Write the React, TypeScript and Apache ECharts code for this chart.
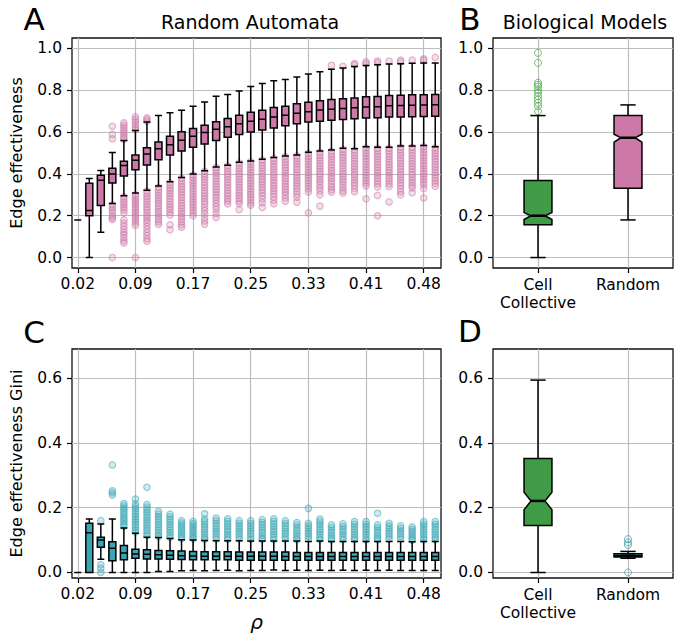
import React, { useEffect, useRef } from "react";
import * as echarts from "echarts";

// ---------- data ----------
const rhoLabels = ["0.02","0.03","0.05","0.06","0.08","0.09","0.11","0.12","0.14","0.16","0.17","0.19","0.20","0.22","0.23","0.25","0.27","0.28","0.30","0.31","0.33","0.34","0.36","0.38","0.39","0.41","0.42","0.44","0.45","0.47","0.48","0.50"];
const bioCategories = ["Cell\nCollective", "Random"];
const yTicksTop = [0, 0.2, 0.4, 0.6, 0.8, 1.0];
const yTicksBottom = [0, 0.2, 0.4, 0.6];

// Panel A: [low whisker, Q1, median, Q3, high whisker]
const effStats = [
  [0.18,0.18,0.18,0.18,0.18],[0.0,0.2,0.225,0.355,0.378],[0.121,0.249,0.37,0.393,0.416],[0.258,0.357,0.4,0.427,0.502],
  [0.295,0.39,0.44,0.46,0.56],[0.309,0.42,0.465,0.491,0.608],[0.322,0.443,0.495,0.525,0.648],[0.342,0.468,0.52,0.553,0.679],
  [0.363,0.491,0.54,0.58,0.692],[0.383,0.51,0.561,0.602,0.705],[0.4,0.527,0.58,0.617,0.724],[0.415,0.543,0.598,0.633,0.744],
  [0.433,0.56,0.613,0.649,0.771],[0.442,0.575,0.625,0.665,0.78],[0.456,0.589,0.64,0.68,0.797],[0.462,0.6,0.652,0.695,0.818],
  [0.47,0.61,0.661,0.705,0.832],[0.478,0.62,0.672,0.718,0.846],[0.486,0.63,0.68,0.724,0.851],[0.49,0.64,0.69,0.735,0.864],
  [0.504,0.648,0.697,0.743,0.878],[0.509,0.652,0.706,0.75,0.888],[0.514,0.657,0.709,0.756,0.9],[0.523,0.66,0.713,0.759,0.906],
  [0.52,0.664,0.716,0.763,0.914],[0.53,0.667,0.72,0.769,0.919],[0.528,0.668,0.721,0.77,0.922],[0.528,0.672,0.726,0.775,0.926],
  [0.533,0.672,0.727,0.776,0.927],[0.533,0.673,0.728,0.778,0.929],[0.536,0.675,0.73,0.779,0.93],[0.53,0.676,0.731,0.78,0.931],
];
const effOutliers = [
  [],[],[],
  [0.628,0.589,0.568,0.252,0.24,0.228,0.215,0.2,0.19,0.182,0.0],
  [0.644,0.632,0.62,0.608,0.597,0.585,0.574,0.565,0.29,0.278,0.265,0.252,0.24,0.228,0.214,0.18,0.165,0.15,0.135,0.12,0.11,0.095,0.08,0.07],
  [0.673,0.66,0.648,0.636,0.624,0.612,0.3,0.288,0.276,0.264,0.252,0.24,0.228,0.216,0.204,0.192,0.18,0.168,0.155,0.0],
  [0.668,0.66,0.652,0.318,0.305,0.292,0.28,0.267,0.254,0.241,0.228,0.215,0.202,0.19,0.178,0.166,0.15,0.135,0.12,0.105,0.09,0.078],
  [0.335,0.322,0.31,0.297,0.284,0.272,0.259,0.246,0.233,0.22,0.208,0.195,0.182,0.17,0.158],
  [0.358,0.345,0.332,0.32,0.307,0.294,0.281,0.268,0.255,0.242,0.23,0.217,0.204,0.157,0.133],
  [0.378,0.365,0.352,0.339,0.326,0.313,0.3,0.287,0.274,0.261,0.248,0.235,0.222,0.21,0.197,0.184,0.17,0.157,0.145],
  [0.395,0.382,0.369,0.356,0.343,0.33,0.317,0.304,0.291,0.278,0.265,0.252,0.239,0.226,0.213,0.2],
  [0.412,0.399,0.386,0.373,0.36,0.347,0.334,0.321,0.308,0.295,0.282,0.269,0.256,0.24,0.225,0.21,0.19,0.175,0.16],
  [0.43,0.417,0.404,0.391,0.378,0.365,0.352,0.339,0.326,0.313,0.3,0.287,0.274,0.26,0.245,0.23,0.21,0.192],
  [0.438,0.425,0.412,0.399,0.386,0.373,0.36,0.347,0.334,0.321,0.308,0.295,0.282,0.27,0.256],
  [0.452,0.439,0.426,0.413,0.4,0.387,0.374,0.361,0.348,0.335,0.322,0.309,0.296,0.283,0.27,0.258,0.23],
  [0.458,0.445,0.432,0.419,0.406,0.393,0.38,0.367,0.354,0.341,0.328,0.315,0.302,0.289,0.276,0.262,0.25],
  [0.466,0.453,0.44,0.427,0.414,0.401,0.388,0.375,0.362,0.349,0.336,0.323,0.31,0.295,0.28,0.262,0.24],
  [0.474,0.461,0.448,0.435,0.422,0.409,0.396,0.383,0.37,0.357,0.344,0.331,0.318,0.305,0.29,0.275,0.258],
  [0.482,0.469,0.456,0.443,0.43,0.417,0.404,0.391,0.378,0.365,0.352,0.339,0.326,0.313,0.3,0.285,0.27],
  [0.486,0.473,0.46,0.447,0.434,0.421,0.408,0.395,0.382,0.369,0.356,0.343,0.33,0.317,0.303,0.288,0.265],
  [0.498,0.485,0.472,0.459,0.446,0.433,0.42,0.407,0.394,0.381,0.368,0.355,0.342,0.328,0.314,0.214],
  [0.503,0.49,0.477,0.464,0.451,0.438,0.425,0.412,0.399,0.386,0.373,0.36,0.347,0.333,0.318,0.3,0.246],
  [0.919,0.508,0.495,0.482,0.469,0.456,0.443,0.43,0.417,0.404,0.391,0.378,0.365,0.352,0.338,0.325,0.313],
  [0.915,0.517,0.504,0.491,0.478,0.465,0.452,0.439,0.426,0.413,0.4,0.387,0.374,0.361,0.348,0.334,0.32,0.309],
  [0.928,0.922,0.514,0.501,0.488,0.475,0.462,0.449,0.436,0.423,0.41,0.397,0.384,0.371,0.358,0.345,0.33,0.315],
  [0.936,0.927,0.524,0.511,0.498,0.485,0.472,0.459,0.446,0.433,0.42,0.407,0.394,0.381,0.368,0.355,0.342,0.281],
  [0.94,0.932,0.522,0.509,0.496,0.483,0.47,0.457,0.444,0.431,0.418,0.405,0.392,0.379,0.366,0.353,0.338,0.297,0.2],
  [0.94,0.522,0.509,0.496,0.483,0.47,0.457,0.444,0.431,0.418,0.405,0.392,0.379,0.366,0.353,0.34,0.266],
  [0.944,0.936,0.527,0.514,0.501,0.488,0.475,0.462,0.449,0.436,0.423,0.41,0.397,0.384,0.371,0.358,0.345,0.33,0.315,0.3],
  [0.944,0.527,0.514,0.501,0.488,0.475,0.462,0.449,0.436,0.423,0.41,0.397,0.384,0.371,0.358,0.345,0.333,0.31],
  [0.95,0.944,0.53,0.517,0.504,0.491,0.478,0.465,0.452,0.439,0.426,0.413,0.4,0.387,0.374,0.361,0.348,0.33,0.285],
  [0.957,0.524,0.511,0.498,0.485,0.472,0.459,0.446,0.433,0.42,0.407,0.394,0.381,0.368,0.355,0.341],
];

// Panel C: [low whisker, Q1, median, Q3, high whisker]
const giniStats = [
  [0,0,0,0,0],[0,0,0.123,0.152,0.165],[0.041,0.078,0.1,0.109,0.15],[0,0.036,0.075,0.095,0.165],
  [0,0.039,0.06,0.083,0.137],[0,0.044,0.057,0.072,0.121],[0,0.042,0.056,0.07,0.109],[0.003,0.042,0.055,0.068,0.108],
  [0.003,0.041,0.053,0.067,0.105],[0.005,0.04,0.052,0.066,0.101],[0.006,0.039,0.051,0.065,0.1],[0.005,0.039,0.05,0.064,0.099],
  [0.006,0.039,0.05,0.064,0.098],[0.007,0.039,0.05,0.064,0.098],[0.005,0.038,0.05,0.063,0.098],[0.006,0.038,0.05,0.063,0.097],
  [0.006,0.038,0.05,0.063,0.097],[0.008,0.038,0.05,0.063,0.097],[0.006,0.038,0.049,0.063,0.097],[0.007,0.038,0.049,0.062,0.097],
  [0.006,0.038,0.049,0.062,0.096],[0.007,0.038,0.049,0.062,0.097],[0.006,0.038,0.049,0.062,0.096],[0.007,0.038,0.049,0.062,0.096],
  [0.006,0.038,0.049,0.062,0.096],[0.007,0.038,0.049,0.062,0.096],[0.006,0.038,0.049,0.062,0.096],[0.007,0.038,0.049,0.062,0.096],
  [0.006,0.038,0.049,0.062,0.096],[0.006,0.038,0.049,0.062,0.095],[0.006,0.038,0.049,0.062,0.096],[0.006,0.038,0.049,0.062,0.096],
];
const giniOutliers = [
  [],[0.139],[0.16,0.024,0.013,0.0],[0.332,0.252,0.246,0.239],
  [0.213,0.206,0.199,0.192,0.185,0.178,0.171,0.164,0.157,0.15,0.143],
  [0.227,0.212,0.204,0.196,0.188,0.18,0.172,0.164,0.156,0.148,0.14,0.132,0.125],
  [0.263,0.21,0.202,0.194,0.186,0.178,0.17,0.162,0.154,0.146,0.138,0.13,0.122,0.114],
  [0.188,0.18,0.172,0.164,0.156,0.148,0.14,0.132,0.124,0.116,0.111],
  [0.18,0.172,0.164,0.156,0.148,0.14,0.132,0.124,0.116,0.109],
  [0.16,0.153,0.146,0.139,0.132,0.125,0.118,0.111,0.105],
  [0.158,0.151,0.144,0.137,0.13,0.123,0.116,0.109,0.104],
  [0.181,0.165,0.157,0.149,0.141,0.133,0.125,0.117,0.109,0.103],
  [0.168,0.16,0.152,0.144,0.136,0.128,0.12,0.112,0.104],
  [0.166,0.158,0.15,0.142,0.134,0.126,0.118,0.11,0.103],
  [0.16,0.152,0.144,0.136,0.128,0.12,0.112,0.104],
  [0.16,0.152,0.144,0.136,0.128,0.12,0.112,0.103],
  [0.163,0.155,0.147,0.139,0.131,0.123,0.115,0.107,0.102],
  [0.166,0.158,0.15,0.142,0.134,0.126,0.118,0.11,0.102],
  [0.16,0.152,0.144,0.136,0.128,0.12,0.112,0.104],
  [0.154,0.146,0.138,0.13,0.122,0.114,0.106,0.101],
  [0.198,0.152,0.144,0.136,0.128,0.12,0.112,0.104],
  [0.165,0.157,0.149,0.141,0.133,0.125,0.117,0.109,0.102],
  [0.147,0.139,0.131,0.123,0.115,0.107,0.101],
  [0.15,0.142,0.134,0.126,0.118,0.11,0.102],
  [0.157,0.149,0.141,0.133,0.125,0.117,0.109,0.102],
  [0.157,0.149,0.141,0.133,0.125,0.117,0.109,0.101],
  [0.183,0.147,0.139,0.131,0.123,0.115,0.107,0.101],
  [0.152,0.144,0.136,0.128,0.12,0.112,0.104],
  [0.144,0.136,0.128,0.12,0.112,0.104],
  [0.14,0.133,0.126,0.119,0.112,0.105,0.1],
  [0.157,0.149,0.141,0.133,0.125,0.117,0.109,0.102],
  [0.157,0.149,0.141,0.133,0.125,0.117,0.109,0.102],
];

// Panels B, D: [low, Q1, notch low, median, notch high, Q3, high]
const bioEffStats = [
  [0, 0.157, 0.182, 0.2, 0.215, 0.368, 0.679],
  [0.18, 0.332, 0.552, 0.573, 0.59, 0.679, 0.73],
];
const bioEffOutliers = [0.979, 0.931, 0.836, 0.826, 0.817, 0.8, 0.788, 0.772, 0.756, 0.74, 0.724, 0.7];
const bioGiniStats = [
  [0, 0.145, 0.194, 0.221, 0.248, 0.352, 0.594],
  [0.044, 0.048, 0.0515, 0.052, 0.0525, 0.058, 0.065],
];
const bioGiniOutliers = [0.103, 0.093, 0.085, 0.0];

// ---------- styles ----------
const FONT = "DejaVu Sans";
const PINK = "#CC79A7";
const TEAL = "#3AA6B5";
const GREEN = "#3F9B45";
const GREEN_O = "#4DAF4A";

const axisFont = { fontFamily: FONT, fontSize: 15.5, color: "#000" };
const tickStyle = { show: true, length: 5, lineStyle: { color: "#000", width: 1.2 } };
const gridLine = { show: true, lineStyle: { color: "#bdbdbd", width: 1.2 } };

function flatten(list: number[][]) {
  const out: number[][] = [];
  list.forEach((vals, i) => vals.forEach((v) => out.push([i, v])));
  return out;
}

function notched(fill: string) {
  return (params: any, api: any) => {
    const idx = api.value(0);
    const c = (k: number) => api.coord([idx, api.value(k)]);
    const pLow = c(1), pQ1 = c(2), pNLo = c(3), pMed = c(4), pNHi = c(5), pQ3 = c(6), pHigh = c(7);
    const cx = pMed[0];
    const band = api.size([1, 0])[0];
    const hw = band * 0.155;
    const nw = hw * 0.5;
    const cw = hw * 0.55;
    const st = { stroke: "#000", lineWidth: 1.5, fill: "none" };
    return {
      type: "group",
      children: [
        { type: "line", shape: { x1: cx, y1: pQ3[1], x2: cx, y2: pHigh[1] }, style: st },
        { type: "line", shape: { x1: cx, y1: pQ1[1], x2: cx, y2: pLow[1] }, style: st },
        { type: "line", shape: { x1: cx - cw, y1: pHigh[1], x2: cx + cw, y2: pHigh[1] }, style: st },
        { type: "line", shape: { x1: cx - cw, y1: pLow[1], x2: cx + cw, y2: pLow[1] }, style: st },
        {
          type: "polygon",
          shape: {
            points: [
              [cx - hw, pQ1[1]], [cx + hw, pQ1[1]], [cx + hw, pNLo[1]], [cx + nw, pMed[1]],
              [cx + hw, pNHi[1]], [cx + hw, pQ3[1]], [cx - hw, pQ3[1]], [cx - hw, pNHi[1]],
              [cx - nw, pMed[1]], [cx - hw, pNLo[1]],
            ],
          },
          style: { fill, stroke: "#000", lineWidth: 1.5 },
        },
        { type: "line", shape: { x1: cx - nw, y1: pMed[1], x2: cx + nw, y2: pMed[1] }, style: { stroke: "#000", lineWidth: 2.5 } },
      ],
    };
  };
}

function rhoAxis(gridIndex: number, withName: boolean) {
  return {
    type: "category",
    gridIndex,
    data: rhoLabels,
    boundaryGap: true,
    axisLine: { show: false, onZero: false },
    axisTick: { ...tickStyle, interval: 4, alignWithLabel: true },
    axisLabel: { ...axisFont, interval: 4, margin: 8 },
    splitLine: { ...gridLine, interval: 4, alignWithLabel: true },
    name: withName ? "ρ" : "",
    nameLocation: "middle",
    nameGap: 34,
    nameTextStyle: { fontFamily: FONT, fontStyle: "italic", fontSize: 20, color: "#000" },
  };
}

function bioAxis(gridIndex: number) {
  return {
    type: "category",
    gridIndex,
    data: bioCategories,
    boundaryGap: true,
    axisLine: { show: false, onZero: false },
    axisTick: { ...tickStyle, interval: 0, alignWithLabel: true },
    axisLabel: { ...axisFont, interval: 0, margin: 8, lineHeight: 18, hideOverlap: false },
    splitLine: { ...gridLine, interval: 0, alignWithLabel: true },
  };
}

function valAxis(gridIndex: number, min: number, max: number, ticks: number[], name: string, splitNumber: number) {
  return {
    type: "value",
    gridIndex,
    min,
    max,
    splitNumber,
    axisLine: { show: false },
    axisTick: { ...tickStyle, customValues: ticks },
    axisLabel: { ...axisFont, customValues: ticks, margin: 10, formatter: (v: number) => v.toFixed(1) },
    splitLine: gridLine,
    name,
    nameLocation: "middle",
    nameGap: 48,
    nameTextStyle: { fontFamily: FONT, fontSize: 16, color: "#000" },
  };
}

const gridBase = { show: true, borderColor: "#111", borderWidth: 1.3, backgroundColor: "transparent", containLabel: false };

function label(text: string, x: number, y: number, size: number) {
  return {
    type: "text",
    x,
    y,
    style: { text, font: `${size}px '${FONT}'`, fill: "#000", align: "center", verticalAlign: "middle", textAlign: "center", textVerticalAlign: "middle" },
  };
}

export default function App() {
  const ref = useRef<HTMLDivElement>(null);
  useEffect(() => {
    document.body.style.margin = "0";
    if (!ref.current) return;
    const chart = echarts.init(ref.current, null, { renderer: "svg" });
    const cloud = (r: number, g: number, b: number) => ({
      color: `rgba(${r},${g},${b},0.3)`,
      borderColor: `rgba(${r},${g},${b},0.7)`,
      borderWidth: 1.1,
    });
    chart.setOption({
      animation: false,
      textStyle: { fontFamily: FONT },
      grid: [
        { ...gridBase, left: 59, top: 38, width: 382, height: 230 },
        { ...gridBase, left: 493, top: 38, width: 180, height: 230 },
        { ...gridBase, left: 59, top: 349, width: 382, height: 229 },
        { ...gridBase, left: 493, top: 349, width: 180, height: 229 },
      ],
      xAxis: [rhoAxis(0, false), bioAxis(1), rhoAxis(2, true), bioAxis(3)],
      yAxis: [
        valAxis(0, -0.05, 1.05, yTicksTop, "Edge effectiveness", 5),
        valAxis(1, -0.05, 1.05, yTicksTop, "", 5),
        valAxis(2, -0.017, 0.69, yTicksBottom, "Edge effectiveness Gini", 3),
        valAxis(3, -0.017, 0.69, yTicksBottom, "", 3),
      ],
      graphic: [
        label("A", 34, 19, 31),
        label("B", 470, 19, 31),
        label("C", 34, 332, 31),
        label("D", 470, 331, 31),
        label("Random Automata", 250, 22, 19),
        label("Biological Models", 585, 22, 19),
      ],
      series: [
        { type: "scatter", xAxisIndex: 0, yAxisIndex: 0, data: flatten(effOutliers), symbol: "circle", symbolSize: 6.5, itemStyle: cloud(204, 121, 167), z: 1, silent: true },
        { type: "boxplot", xAxisIndex: 0, yAxisIndex: 0, data: effStats, boxWidth: [7, 7], itemStyle: { color: PINK, borderColor: "#000", borderWidth: 1.5 }, z: 3, silent: true },
        { type: "scatter", xAxisIndex: 1, yAxisIndex: 1, data: bioEffOutliers.map((v) => [0, v]), symbol: "circle", symbolSize: 7, itemStyle: { color: "rgba(0,0,0,0)", borderColor: GREEN_O, borderWidth: 1 }, z: 1, silent: true },
        { type: "custom", xAxisIndex: 1, yAxisIndex: 1, data: bioEffStats.map((s, i) => [i, ...s]), encode: { x: 0, y: [1, 2, 3, 4, 5, 6, 7] }, renderItem: (p: any, api: any) => notched(api.value(0) === 0 ? GREEN : PINK)(p, api), z: 3, silent: true },
        { type: "scatter", xAxisIndex: 2, yAxisIndex: 2, data: flatten(giniOutliers), symbol: "circle", symbolSize: 6.5, itemStyle: cloud(58, 166, 181), z: 1, silent: true },
        { type: "boxplot", xAxisIndex: 2, yAxisIndex: 2, data: giniStats, boxWidth: [7, 7], itemStyle: { color: TEAL, borderColor: "#000", borderWidth: 1.5 }, z: 3, silent: true },
        { type: "scatter", xAxisIndex: 3, yAxisIndex: 3, data: bioGiniOutliers.map((v) => [1, v]), symbol: "circle", symbolSize: 7, itemStyle: { color: "rgba(0,0,0,0)", borderColor: TEAL, borderWidth: 1 }, z: 1, silent: true },
        { type: "custom", xAxisIndex: 3, yAxisIndex: 3, data: bioGiniStats.map((s, i) => [i, ...s]), encode: { x: 0, y: [1, 2, 3, 4, 5, 6, 7] }, renderItem: (p: any, api: any) => notched(api.value(0) === 0 ? GREEN : TEAL)(p, api), z: 3, silent: true },
      ],
    });
    return () => chart.dispose();
  }, []);
  return <div ref={ref} style={{ width: 678, height: 633 }} />;
}
